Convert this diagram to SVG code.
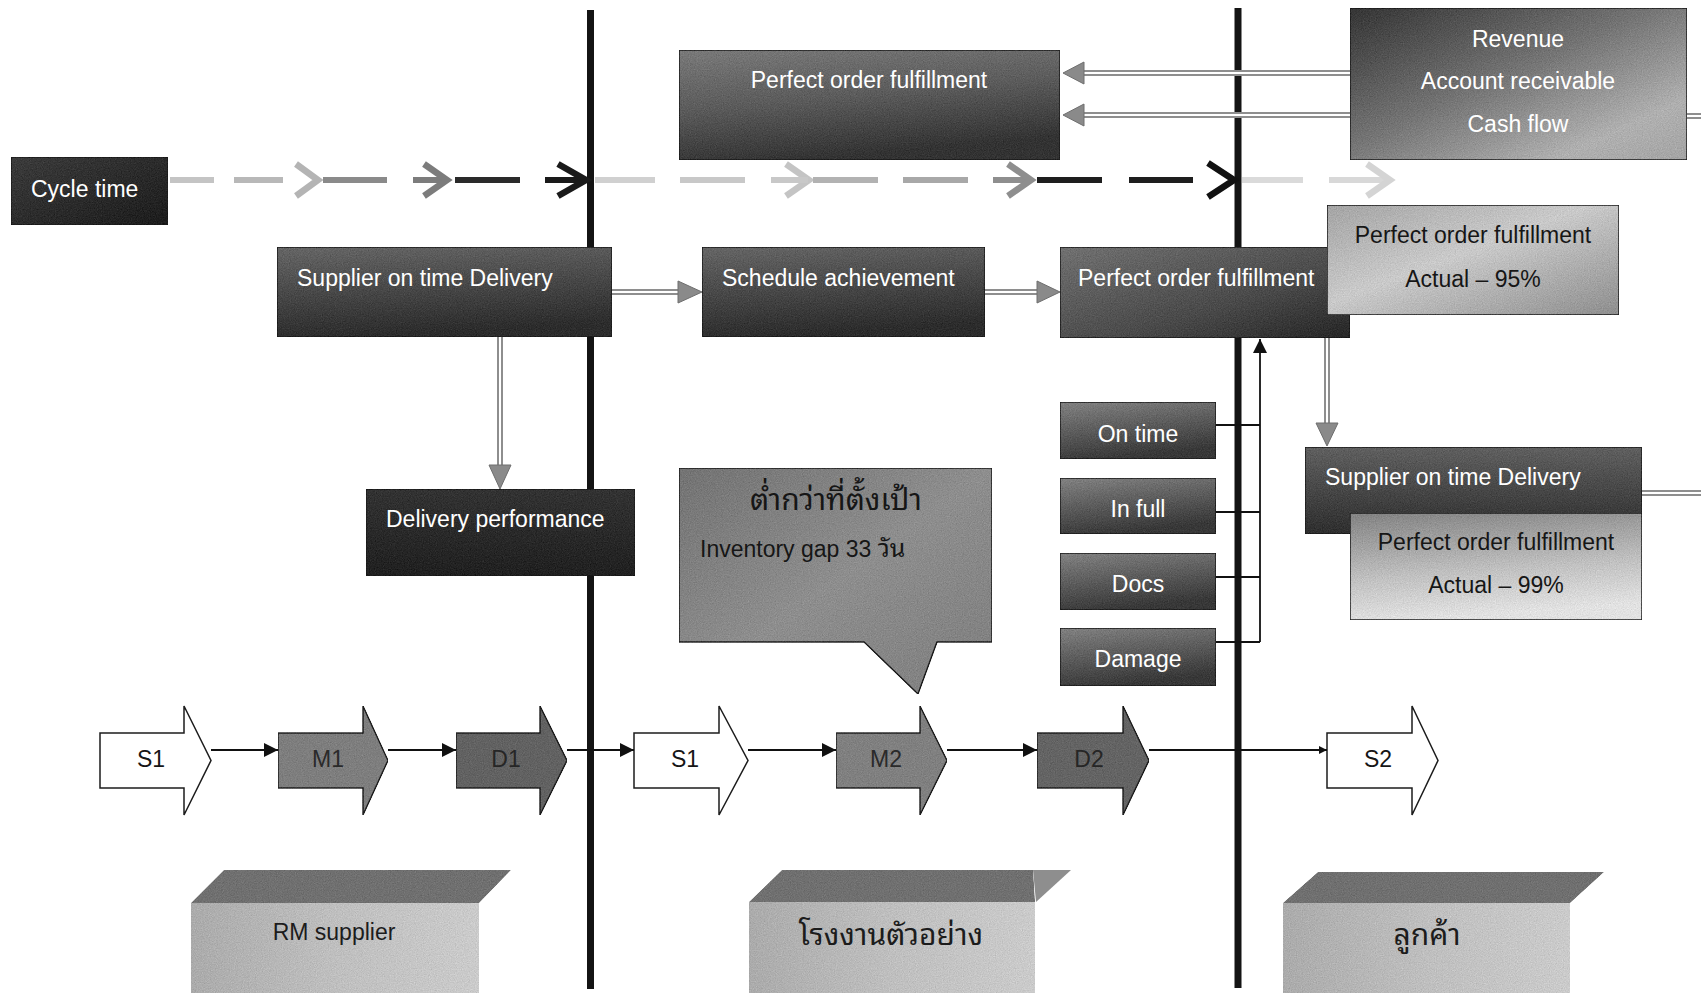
<svg xmlns="http://www.w3.org/2000/svg" width="1701" height="993" viewBox="0 0 1701 993">
  <style>
    .lbl { font-family: "Liberation Sans", Arial, Helvetica, sans-serif; font-size: 23px; }
    .w { fill: #ffffff; }
    .k { fill: #161616; }
    .thai { font-family: "Noto Sans Thai Looped", "Noto Sans Thai", "Loma", "Garuda", "Liberation Sans", "Noto Sans", sans-serif; }
    .box { stroke: #1a1a1a; stroke-width: 1.5; }
    .sep { stroke: #141414; stroke-width: 7; stroke-linecap: butt; }
    .dashc { stroke-width: 6; fill: none; }
    .chev { stroke-width: 6.5; fill: none; stroke-linejoin: miter; stroke-linecap: butt; }
    .dbl-o { stroke: #8e8e8e; stroke-width: 6; fill: none; }
    .dbl-i { stroke: #ffffff; stroke-width: 2; fill: none; }
    .dhead { fill: #8a8a8a; stroke: #6e6e6e; stroke-width: 1; }
    .thin { stroke: #111111; stroke-width: 1.8; fill: none; }
    .blk { stroke: #1c1c1c; stroke-width: 1.5; }
  </style>
  <defs>
    <marker id="tri" viewBox="0 0 10 10" refX="10" refY="5" markerWidth="8" markerHeight="8" markerUnits="userSpaceOnUse" orient="auto">
      <path d="M0,0 L10,5 L0,10 Z" fill="#111"/>
    </marker>
    <marker id="triS" viewBox="0 0 10 10" refX="10" refY="5" markerWidth="14" markerHeight="14" markerUnits="userSpaceOnUse" orient="auto">
      <path d="M0,0 L10,5 L0,10 Z" fill="#111"/>
    </marker>
    <!-- halftone-like speckle on filled shapes -->
    <filter id="grain" x="0" y="0" width="100%" height="100%" color-interpolation-filters="sRGB">
      <feTurbulence type="fractalNoise" baseFrequency="0.85" numOctaves="2" seed="7" result="t"/>
      <feColorMatrix in="t" type="matrix" values="0.33 0.33 0.33 0 0  0.33 0.33 0.33 0 0  0.33 0.33 0.33 0 0  0 0 0 0 1" result="m"/>
      <feComposite in="m" in2="SourceGraphic" operator="arithmetic" k1="0" k2="0.28" k3="1" k4="-0.14" result="c"/>
      <feComposite in="c" in2="SourceGraphic" operator="in"/>
    </filter>
    <linearGradient id="gCycle" x1="0" y1="0" x2="1" y2="1">
      <stop offset="0" stop-color="#3c3c3c"/><stop offset="1" stop-color="#1c1c1c"/>
    </linearGradient>
    <linearGradient id="gTop" x1="0" y1="0" x2="0.3" y2="1">
      <stop offset="0" stop-color="#7a7a7a"/><stop offset="0.5" stop-color="#5c5c5c"/><stop offset="1" stop-color="#333"/>
    </linearGradient>
    <linearGradient id="gRev" x1="0" y1="0" x2="1" y2="1">
      <stop offset="0" stop-color="#353535"/><stop offset="0.45" stop-color="#747474"/><stop offset="0.8" stop-color="#b0b0b0"/><stop offset="1" stop-color="#a4a4a4"/>
    </linearGradient>
    <linearGradient id="gDark" x1="0" y1="0" x2="0.2" y2="1">
      <stop offset="0" stop-color="#666"/><stop offset="1" stop-color="#2c2c2c"/>
    </linearGradient>
    <linearGradient id="gMid" x1="0" y1="0" x2="1" y2="1">
      <stop offset="0" stop-color="#717171"/><stop offset="0.6" stop-color="#4a4a4a"/><stop offset="1" stop-color="#262626"/>
    </linearGradient>
    <linearGradient id="gLight" x1="0" y1="0" x2="1" y2="1">
      <stop offset="0" stop-color="#a4a4a4"/><stop offset="0.45" stop-color="#cacaca"/><stop offset="1" stop-color="#8e8e8e"/>
    </linearGradient>
    <linearGradient id="gDel" x1="0" y1="0" x2="0" y2="1">
      <stop offset="0" stop-color="#333"/><stop offset="1" stop-color="#202020"/>
    </linearGradient>
    <linearGradient id="gCall" x1="0" y1="0" x2="1" y2="1">
      <stop offset="0" stop-color="#737373"/><stop offset="0.5" stop-color="#8e8e8e"/><stop offset="1" stop-color="#7e7e7e"/>
    </linearGradient>
    <linearGradient id="gSmall" x1="0" y1="0" x2="0.3" y2="1">
      <stop offset="0" stop-color="#828282"/><stop offset="1" stop-color="#383838"/>
    </linearGradient>
    <linearGradient id="gSupR" x1="0" y1="0" x2="0" y2="1">
      <stop offset="0" stop-color="#606060"/><stop offset="1" stop-color="#2e2e2e"/>
    </linearGradient>
    <linearGradient id="g99" x1="0" y1="0" x2="0.2" y2="1">
      <stop offset="0" stop-color="#828282"/><stop offset="0.6" stop-color="#c0c0c0"/><stop offset="1" stop-color="#e2e2e2"/>
    </linearGradient>
    <linearGradient id="gFront" x1="0" y1="0" x2="1" y2="0">
      <stop offset="0" stop-color="#ababab"/><stop offset="0.5" stop-color="#bfbfbf"/><stop offset="1" stop-color="#cbcbcb"/>
    </linearGradient>
  </defs>

  <rect width="1701" height="993" fill="#ffffff"/>

  <!-- organisation boundaries -->
  <g id="boundaries">
    <line class="sep" x1="590.5" y1="10" x2="590.5" y2="989"/>
    <line class="sep" x1="1238" y1="8" x2="1238" y2="988"/>
  </g>

  <!-- cycle-time flow: dashes darken towards each boundary -->
  <g id="cycle-flow">
    <line class="dashc" x1="170" y1="180" x2="214" y2="180" stroke="#c4c4c4"/>
    <line class="dashc" x1="234" y1="180" x2="283" y2="180" stroke="#b8b8b8"/>
    <polyline class="chev" points="296,164 318,180 296,196" stroke="#b4b4b4"/>
    <line class="dashc" x1="323" y1="180" x2="387" y2="180" stroke="#8a8a8a"/>
    <line class="dashc" x1="413" y1="180" x2="446" y2="180" stroke="#7c7c7c"/>
    <polyline class="chev" points="424,164 447,180 424,196" stroke="#7c7c7c"/>
    <line class="dashc" x1="455" y1="180" x2="520" y2="180" stroke="#2a2a2a"/>
    <line class="dashc" x1="545" y1="180" x2="586" y2="180" stroke="#1a1a1a"/>
    <polyline class="chev" points="558,164 586,180 558,196" stroke="#1a1a1a"/>

    <line class="dashc" x1="595" y1="180" x2="655" y2="180" stroke="#d0d0d0"/>
    <line class="dashc" x1="680" y1="180" x2="745" y2="180" stroke="#c8c8c8"/>
    <polyline class="chev" points="786,164 809,180 786,196" stroke="#c4c4c4"/>
    <line class="dashc" x1="771" y1="180" x2="808" y2="180" stroke="#c8c8c8"/>
    <line class="dashc" x1="813" y1="180" x2="878" y2="180" stroke="#b2b2b2"/>
    <line class="dashc" x1="903" y1="180" x2="968" y2="180" stroke="#a8a8a8"/>
    <line class="dashc" x1="993" y1="180" x2="1030" y2="180" stroke="#8e8e8e"/>
    <polyline class="chev" points="1008,164 1031,180 1008,196" stroke="#8e8e8e"/>
    <line class="dashc" x1="1037" y1="180" x2="1102" y2="180" stroke="#1e1e1e"/>
    <line class="dashc" x1="1129" y1="180" x2="1193" y2="180" stroke="#1e1e1e"/>
    <polyline class="chev" points="1208,163 1234,180 1208,197" stroke="#111"/>

    <line class="dashc" x1="1242" y1="180" x2="1303" y2="180" stroke="#dadada"/>
    <line class="dashc" x1="1329" y1="180" x2="1388" y2="180" stroke="#d8d8d8"/>
    <polyline class="chev" points="1367,164 1390,180 1367,196" stroke="#d4d4d4"/>
  </g>

  <g id="cycle-time">
    <rect class="box" x="11" y="157" width="157" height="68" fill="url(#gCycle)" filter="url(#grain)"/>
    <text class="lbl w" x="31" y="197">Cycle time</text>
  </g>

  <g id="pof-top">
    <rect class="box" x="679" y="50" width="381" height="110" fill="url(#gTop)" filter="url(#grain)"/>
    <text class="lbl w" x="869" y="88" text-anchor="middle">Perfect order fulfillment</text>
  </g>

  <g id="revenue">
    <rect class="box" x="1350" y="8" width="337" height="152" fill="url(#gRev)" filter="url(#grain)"/>
    <text class="lbl w" x="1518" y="47" text-anchor="middle">Revenue</text>
    <text class="lbl w" x="1518" y="89" text-anchor="middle">Account receivable</text>
    <text class="lbl w" x="1518" y="132" text-anchor="middle">Cash flow</text>
  </g>

  <g id="supplier-left">
    <rect class="box" x="277" y="247" width="335" height="90" fill="url(#gDark)" filter="url(#grain)"/>
    <text class="lbl w" x="297" y="286">Supplier on time Delivery</text>
  </g>

  <g id="schedule">
    <rect class="box" x="702" y="247" width="283" height="90" fill="url(#gDark)" filter="url(#grain)"/>
    <text class="lbl w" x="722" y="286">Schedule achievement</text>
  </g>

  <g id="pof-mid">
    <rect class="box" x="1060" y="247" width="290" height="91" fill="url(#gMid)" filter="url(#grain)"/>
    <text class="lbl w" x="1078" y="286">Perfect order fulfillment</text>
  </g>

  <g id="pof-95">
    <rect class="box" x="1327" y="205" width="292" height="110" fill="url(#gLight)" filter="url(#grain)"/>
    <text class="lbl k" x="1473" y="243" text-anchor="middle">Perfect order fulfillment</text>
    <text class="lbl k" x="1473" y="287" text-anchor="middle">Actual – 95%</text>
  </g>

  <g id="delivery-performance">
    <rect class="box" x="366" y="489" width="269" height="87" fill="url(#gDel)" filter="url(#grain)"/>
    <text class="lbl w" x="386" y="527">Delivery performance</text>
  </g>

  <g id="gap-callout">
    <path class="box" d="M679,468 H992 V642 H937 L918,694 L864,642 H679 Z" fill="url(#gCall)" filter="url(#grain)"/>
    <text class="thai k" x="836" y="510" font-size="30" text-anchor="middle">ต่ำกว่าที่ตั้งเป้า</text>
    <text class="lbl k" x="700" y="557" font-size="22">Inventory gap 33 <tspan class="thai" font-size="25">วัน</tspan></text>
  </g>

  <g id="on-time">
    <rect class="box" x="1060" y="402" width="156" height="57" fill="url(#gSmall)" filter="url(#grain)"/>
    <text class="lbl w" x="1138" y="442" text-anchor="middle">On time</text>
  </g>
  <g id="in-full">
    <rect class="box" x="1060" y="478" width="156" height="56" fill="url(#gSmall)" filter="url(#grain)"/>
    <text class="lbl w" x="1138" y="517" text-anchor="middle">In full</text>
  </g>
  <g id="docs">
    <rect class="box" x="1060" y="553" width="156" height="57" fill="url(#gSmall)" filter="url(#grain)"/>
    <text class="lbl w" x="1138" y="592" text-anchor="middle">Docs</text>
  </g>
  <g id="damage">
    <rect class="box" x="1060" y="628" width="156" height="58" fill="url(#gSmall)" filter="url(#grain)"/>
    <text class="lbl w" x="1138" y="667" text-anchor="middle">Damage</text>
  </g>

  <g id="supplier-right">
    <rect class="box" x="1305" y="447" width="337" height="87" fill="url(#gSupR)" filter="url(#grain)"/>
    <text class="lbl w" x="1325" y="485">Supplier on time Delivery</text>
  </g>

  <g id="pof-99">
    <rect class="box" x="1350" y="513" width="292" height="107" fill="url(#g99)" filter="url(#grain)"/>
    <text class="lbl k" x="1496" y="550" text-anchor="middle">Perfect order fulfillment</text>
    <text class="lbl k" x="1496" y="593" text-anchor="middle">Actual – 99%</text>
  </g>

  <!-- SCOR process steps -->
  <g id="s1-supplier">
    <path class="blk" d="M100,733 H184 V706 L211,760.5 L184,815 V788 H100 Z" fill="#ffffff"/>
    <text class="lbl k" x="151" y="767" font-size="21" text-anchor="middle">S1</text>
  </g>
  <g id="m1-supplier">
    <path class="blk" d="M278,733 H363 V706 L388,760.5 L363,815 V788 H278 Z" fill="#7e7e7e" filter="url(#grain)"/>
    <text class="lbl" x="328" y="767" font-size="21" fill="#2a2a2a" text-anchor="middle">M1</text>
  </g>
  <g id="d1-supplier">
    <path class="blk" d="M456,733 H540 V706 L567,760.5 L540,815 V788 H456 Z" fill="#626262" filter="url(#grain)"/>
    <text class="lbl" x="506" y="767" font-size="21" fill="#262626" text-anchor="middle">D1</text>
  </g>
  <g id="s1-plant">
    <path class="blk" d="M634,733 H719 V706 L748,760.5 L719,815 V788 H634 Z" fill="#ffffff"/>
    <text class="lbl k" x="685" y="767" font-size="21" text-anchor="middle">S1</text>
  </g>
  <g id="m2-plant">
    <path class="blk" d="M836,733 H920 V706 L947,760.5 L920,815 V788 H836 Z" fill="#808080" filter="url(#grain)"/>
    <text class="lbl" x="886" y="767" font-size="21" fill="#2a2a2a" text-anchor="middle">M2</text>
  </g>
  <g id="d2-plant">
    <path class="blk" d="M1037,733 H1123 V706 L1149,760.5 L1123,815 V788 H1037 Z" fill="#646464" filter="url(#grain)"/>
    <text class="lbl" x="1089" y="767" font-size="21" fill="#262626" text-anchor="middle">D2</text>
  </g>
  <g id="s2-customer">
    <path class="blk" d="M1327,733 H1412 V706 L1438,760.5 L1412,815 V788 H1327 Z" fill="#ffffff"/>
    <text class="lbl k" x="1378" y="767" font-size="21" text-anchor="middle">S2</text>
  </g>

  <!-- organisation blocks -->
  <g id="rm-supplier">
    <polygon points="224,870 511,870 479,903 191,903" fill="#707070" filter="url(#grain)"/>
    <rect x="191" y="903" width="288" height="90" fill="url(#gFront)" filter="url(#grain)"/>
    <text class="lbl" x="334" y="940" fill="#1c1c1c" text-anchor="middle">RM supplier</text>
  </g>
  <g id="sample-plant">
    <polygon points="782,870 1033,870 1035,902 749,902" fill="#707070" filter="url(#grain)"/>
    <polygon points="1033,870 1071,870 1036,902" fill="#8e8e8e"/>
    <rect x="749" y="902" width="286" height="91" fill="url(#gFront)" filter="url(#grain)"/>
    <text class="thai" x="891" y="945" font-size="30" fill="#1c1c1c" text-anchor="middle">โรงงานตัวอย่าง</text>
  </g>
  <g id="customer">
    <polygon points="1318,872 1604,872 1570,903 1283,903" fill="#707070" filter="url(#grain)"/>
    <rect x="1283" y="903" width="287" height="90" fill="url(#gFront)" filter="url(#grain)"/>
    <text class="thai" x="1427" y="945" font-size="30" fill="#1c1c1c" text-anchor="middle">ลูกค้า</text>
  </g>

  <g id="connectors">
    <!-- Revenue / AR / cash flow feed the top fulfilment measure -->
    <line class="dbl-o" x1="1083" y1="73" x2="1350" y2="73"/>
    <line class="dbl-i" x1="1083" y1="73" x2="1350" y2="73"/>
    <polygon class="dhead" points="1063,73 1084,62 1084,84"/>
    <line class="dbl-o" x1="1083" y1="115" x2="1350" y2="115"/>
    <line class="dbl-i" x1="1083" y1="115" x2="1350" y2="115"/>
    <polygon class="dhead" points="1063,115 1084,104 1084,126"/>
    <line class="dbl-o" x1="1687" y1="116" x2="1701" y2="116"/>
    <line class="dbl-i" x1="1687" y1="116" x2="1701" y2="116"/>

    <!-- metric chain -->
    <line class="dbl-o" x1="612" y1="292" x2="680" y2="292"/>
    <line class="dbl-i" x1="612" y1="292" x2="680" y2="292"/>
    <polygon class="dhead" points="702,292 678,281 678,303"/>
    <line class="dbl-o" x1="985" y1="292" x2="1039" y2="292"/>
    <line class="dbl-i" x1="985" y1="292" x2="1039" y2="292"/>
    <polygon class="dhead" points="1060,292 1037,281 1037,303"/>

    <line class="dbl-o" x1="500" y1="337" x2="500" y2="467"/>
    <line class="dbl-i" x1="500" y1="337" x2="500" y2="467"/>
    <polygon class="dhead" points="500,489 489,465 511,465"/>
    <line class="dbl-o" x1="1327" y1="338" x2="1327" y2="425"/>
    <line class="dbl-i" x1="1327" y1="338" x2="1327" y2="425"/>
    <polygon class="dhead" points="1327,446 1316,423 1338,423"/>
    <line class="dbl-o" x1="1642" y1="493" x2="1701" y2="493"/>
    <line class="dbl-i" x1="1642" y1="493" x2="1701" y2="493"/>

    <!-- POF components roll up -->
    <line class="thin" x1="1216" y1="425" x2="1260" y2="425"/>
    <line class="thin" x1="1216" y1="512" x2="1260" y2="512"/>
    <line class="thin" x1="1216" y1="577" x2="1260" y2="577"/>
    <line class="thin" x1="1216" y1="642" x2="1260" y2="642"/>
    <line class="thin" x1="1260" y1="642" x2="1260" y2="339" marker-end="url(#triS)"/>

    <!-- process flow -->
    <line class="thin" x1="211" y1="750" x2="278" y2="750" marker-end="url(#triS)"/>
    <line class="thin" x1="388" y1="750" x2="456" y2="750" marker-end="url(#triS)"/>
    <line class="thin" x1="567" y1="750" x2="634" y2="750" marker-end="url(#triS)"/>
    <line class="thin" x1="748" y1="750" x2="836" y2="750" marker-end="url(#triS)"/>
    <line class="thin" x1="947" y1="750" x2="1037" y2="750" marker-end="url(#triS)"/>
    <line class="thin" x1="1149" y1="750" x2="1327" y2="750" marker-end="url(#tri)"/>
  </g>
</svg>
